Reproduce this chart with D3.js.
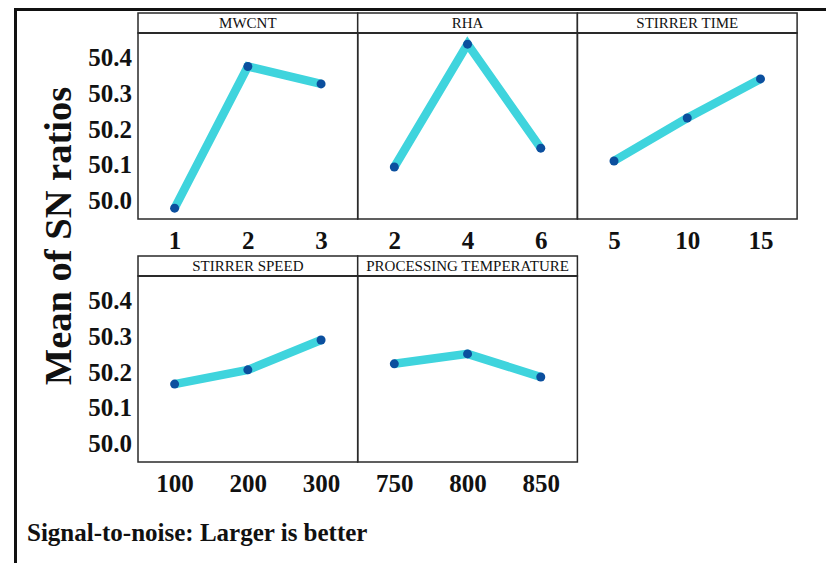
<!DOCTYPE html>
<html>
<head>
<meta charset="utf-8">
<script src="https://cdn.jsdelivr.net/npm/d3@7"></script>
<style>
  html, body { margin: 0; padding: 0; background: #fff; }
  svg { display: block; }
  text { font-family: "Liberation Serif", "Times New Roman", serif; fill: #111; }
</style>
</head>
<body>
<svg id="chart" width="826" height="563"></svg>
<script>
// ---- data ----
const factors = ["MWCNT", "RHA", "STIRRER TIME", "STIRRER SPEED", "PROCESSING TEMPERATURE"];
const levelsMWCNT = ["1", "2", "3"];
const levelsRHA = ["2", "4", "6"];
const levelsStirrerTime = ["5", "10", "15"];
const levelsStirrerSpeed = ["100", "200", "300"];
const levelsTemperature = ["750", "800", "850"];
const snMWCNT = [49.977, 50.376, 50.327];
const snRHA = [50.093, 50.439, 50.146];
const snStirrerTime = [50.110, 50.231, 50.341];
const snStirrerSpeed = [50.166, 50.206, 50.290];
const snTemperature = [50.223, 50.251, 50.186];
const yTicks = [50.0, 50.1, 50.2, 50.3, 50.4];
const yTitle = "Mean of SN ratios";
const footnote = "Signal-to-noise: Larger is better";

const levels = [levelsMWCNT, levelsRHA, levelsStirrerTime, levelsStirrerSpeed, levelsTemperature];
const values = [snMWCNT, snRHA, snStirrerTime, snStirrerSpeed, snTemperature];

// ---- layout ----
const svg = d3.select("#chart");
const panelW = 219.7, x0 = 138;
const rows = [
  { headerTop: 13, plotTop: 33, plotBottom: 219 },
  { headerTop: 256, plotTop: 276, plotBottom: 462 }
];
const perRow = 3;
const yDomain = [49.9465, 50.4704];
const lineColor = "#3fd4dd";
const dotColor = "#0b4f9e";
const frameColor = "#2a2a2a";

// outer frame (top and left)
svg.append("line").attr("x1", 14).attr("x2", 826).attr("y1", 9.5).attr("y2", 9.5)
  .attr("stroke", "#111").attr("stroke-width", 3);
svg.append("line").attr("x1", 15.5).attr("x2", 15.5).attr("y1", 8).attr("y2", 563)
  .attr("stroke", "#111").attr("stroke-width", 3);

factors.forEach((f, i) => {
  const r = rows[Math.floor(i / perRow)];
  const c = i % perRow;
  const left = x0 + c * panelW, right = left + panelW;
  const x = d3.scalePoint().domain(levels[i]).range([left, right]).padding(0.5);
  const y = d3.scaleLinear().domain(yDomain).range([r.plotBottom, r.plotTop]);
  const g = svg.append("g");

  // header strip
  g.append("rect").attr("x", left).attr("y", r.headerTop)
    .attr("width", panelW).attr("height", r.plotTop - r.headerTop)
    .attr("fill", "#fff").attr("stroke", frameColor).attr("stroke-width", 1.5);
  g.append("text").attr("x", (left + right) / 2).attr("y", (r.headerTop + r.plotTop) / 2 + 5)
    .attr("text-anchor", "middle").style("font-size", "15px").text(f);

  // plot box
  g.append("rect").attr("x", left).attr("y", r.plotTop)
    .attr("width", panelW).attr("height", r.plotBottom - r.plotTop)
    .attr("fill", "none").attr("stroke", frameColor).attr("stroke-width", 1.5);
  g.append("line").attr("x1", left).attr("x2", right).attr("y1", r.plotTop).attr("y2", r.plotTop)
    .attr("stroke", frameColor).attr("stroke-width", 2.2);

  const pts = levels[i].map((l, k) => [l, values[i][k]]);
  g.append("path").datum(pts)
    .attr("d", d3.line().x(d => x(d[0])).y(d => y(d[1])))
    .attr("fill", "none").attr("stroke", lineColor).attr("stroke-width", 8.5)
    .attr("stroke-linejoin", "miter").attr("stroke-linecap", "butt");
  g.selectAll("circle").data(pts).enter().append("circle")
    .attr("cx", d => x(d[0])).attr("cy", d => y(d[1])).attr("r", 4.5)
    .attr("fill", dotColor);

  // x axis labels
  const xa = d3.axisBottom(x).tickSize(0).tickPadding(0);
  const xg = g.append("g").attr("transform", `translate(0,${r.plotBottom + 12})`).call(xa);
  xg.select(".domain").remove();
  xg.selectAll("text").attr("dy", "0.72em")
    .style("font-family", "'Liberation Serif', serif").style("font-size", "25px")
    .style("font-weight", "bold").attr("fill", "#111");

  // y axis labels on first column
  if (c === 0) {
    const ya = d3.axisLeft(y).tickValues(yTicks).tickFormat(d3.format(".1f")).tickSize(0).tickPadding(6);
    const yg = g.append("g").attr("transform", `translate(${left},0)`).call(ya);
    yg.select(".domain").remove();
    yg.selectAll("text").style("font-family", "'Liberation Serif', serif").style("font-size", "25px")
      .style("font-weight", "bold").attr("fill", "#111");
  }
});

// y title
svg.append("text").attr("transform", "translate(71,236) rotate(-90)")
  .attr("text-anchor", "middle").style("font-size", "38.5px").style("font-weight", "bold")
  .text(yTitle);

// footnote
svg.append("text").attr("x", 27).attr("y", 541)
  .style("font-size", "25px").style("font-weight", "bold").text(footnote);
</script>
</body>
</html>
